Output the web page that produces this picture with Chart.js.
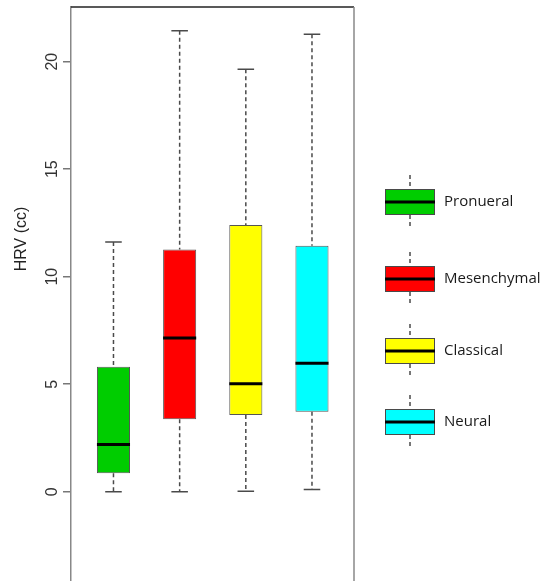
<!DOCTYPE html>
<html>
<head>
    <meta charset="UTF-8">
    <title>HRV boxplot</title>
    <script src="https://cdn.jsdelivr.net/npm/chart.js"></script>
    <style>
        html, body { margin: 0; padding: 0; background: #fff; overflow: hidden; }
        #wrap { position: relative; width: 557px; height: 581px; }
    </style>
</head>
<body>
    <div id="wrap"><canvas id="chart"></canvas></div>

    <script>
        // box plot values
        const categories = ['Pronueral', 'Mesenchymal', 'Classical', 'Neural'];
        const whiskerLow = [0, 0, 0.02, 0.11];
        const q1 = [0.86, 3.37, 3.57, 3.72];
        const medians = [2.2, 7.15, 5.02, 5.97];
        const q3 = [5.81, 11.26, 12.4, 11.44];
        const whiskerHigh = [11.61, 21.43, 19.65, 21.27];
        const boxColors = ['#00CD00', '#FF0000', '#FFFF00', '#00FFFF'];
        const yTicks = [0, 5, 10, 15, 20];
        const yTitle = 'HRV (cc)';

        const boxParts = {
            id: 'boxParts',
            beforeDatasetsDraw(chart) {
                const ctx = chart.ctx;
                const y = chart.scales.y;
                const meta = chart.getDatasetMeta(0);
                ctx.save();
                ctx.strokeStyle = '#4a4a4a';
                ctx.lineWidth = 1.5;
                meta.data.forEach((bar, i) => {
                    const x = bar.x, half = bar.width / 4;
                    // dashed whiskers
                    ctx.setLineDash([4, 3]);
                    ctx.beginPath();
                    ctx.moveTo(x, y.getPixelForValue(whiskerHigh[i]));
                    ctx.lineTo(x, y.getPixelForValue(q3[i]));
                    ctx.moveTo(x, y.getPixelForValue(q1[i]));
                    ctx.lineTo(x, y.getPixelForValue(whiskerLow[i]));
                    ctx.stroke();
                    // caps
                    ctx.setLineDash([]);
                    ctx.beginPath();
                    [whiskerHigh[i], whiskerLow[i]].forEach(v => {
                        const py = y.getPixelForValue(v);
                        ctx.moveTo(x - half, py);
                        ctx.lineTo(x + half, py);
                    });
                    ctx.stroke();
                });
                ctx.restore();
            },
            afterDatasetsDraw(chart) {
                const ctx = chart.ctx;
                const y = chart.scales.y;
                const meta = chart.getDatasetMeta(0);
                ctx.save();
                ctx.strokeStyle = '#000';
                ctx.lineWidth = 3;
                meta.data.forEach((bar, i) => {
                    const py = y.getPixelForValue(medians[i]);
                    ctx.beginPath();
                    ctx.moveTo(bar.x - bar.width / 2, py);
                    ctx.lineTo(bar.x + bar.width / 2, py);
                    ctx.stroke();
                });
                ctx.restore();
            },
            afterDraw(chart) {
                const ctx = chart.ctx;
                const a = chart.chartArea;
                ctx.save();
                // frame: top and right sides
                ctx.strokeStyle = '#222';
                ctx.lineWidth = 1.5;
                ctx.beginPath();
                ctx.moveTo(a.left, a.top);
                ctx.lineTo(a.right, a.top);
                ctx.stroke();
                ctx.strokeStyle = '#888';
                ctx.beginPath();
                ctx.moveTo(a.right, a.top);
                ctx.lineTo(a.right, a.bottom);
                ctx.stroke();

                // y axis title
                ctx.fillStyle = '#222';
                ctx.font = '16px "Liberation Sans", Arial, sans-serif';
                ctx.textAlign = 'center';
                ctx.textBaseline = 'middle';
                ctx.translate(22, 239);
                ctx.rotate(-Math.PI / 2);
                ctx.fillText(yTitle, 0, 0);
                ctx.restore();

                // legend with little box glyphs
                const rows = [202, 279, 351, 422];
                ctx.save();
                categories.forEach((name, i) => {
                    const cy = rows[i];
                    const left = 385, w = 50, h = 26;
                    const cx = left + w / 2;
                    ctx.strokeStyle = '#4a4a4a';
                    ctx.lineWidth = 1.5;
                    ctx.setLineDash([4, 3]);
                    ctx.beginPath();
                    ctx.moveTo(cx, cy - h / 2 - 14);
                    ctx.lineTo(cx, cy - h / 2);
                    ctx.moveTo(cx, cy + h / 2);
                    ctx.lineTo(cx, cy + h / 2 + 14);
                    ctx.stroke();
                    ctx.setLineDash([]);
                    ctx.fillStyle = boxColors[i];
                    ctx.fillRect(left, cy - h / 2, w, h);
                    ctx.lineWidth = 1;
                    ctx.strokeRect(left + 0.5, cy - h / 2 + 0.5, w - 1, h - 1);
                    ctx.strokeStyle = '#000';
                    ctx.lineWidth = 3;
                    ctx.beginPath();
                    ctx.moveTo(left, cy);
                    ctx.lineTo(left + w, cy);
                    ctx.stroke();
                    ctx.fillStyle = '#1a1a1a';
                    ctx.font = '15px "Open Sans", sans-serif';
                    ctx.textAlign = 'left';
                    ctx.textBaseline = 'middle';
                    ctx.fillText(name, 444, cy);
                });
                ctx.restore();
            }
        };

        const ctx = document.getElementById('chart').getContext('2d');
        new Chart(ctx, {
            type: 'bar',
            data: {
                datasets: [{
                    data: categories.map((c, i) => ({ x: i + 1, y: [q1[i], q3[i]] })),
                    backgroundColor: boxColors,
                    borderColor: '#555',
                    borderWidth: 1,
                    borderSkipped: false,
                    barPercentage: 0.5,
                    categoryPercentage: 1
                }]
            },
            options: {
                responsive: true,
                maintainAspectRatio: false,
                animation: false,
                layout: { padding: { left: 0, top: 7, right: 203, bottom: 0 } },
                plugins: { legend: { display: false }, tooltip: { enabled: false } },
                scales: {
                    x: {
                        type: 'linear',
                        min: 0.358,
                        max: 4.635,
                        offset: false,
                        display: false
                    },
                    y: {
                        min: -4.15,
                        max: 22.54,
                        afterFit: s => {
                            s.width = 71;
                            s.paddingTop = 0;
                            s.paddingBottom = 0;
                        },
                        afterBuildTicks: s => { s.ticks = yTicks.map(v => ({ value: v })); },
                        border: { display: true, color: '#888', width: 1.5 },
                        grid: { drawOnChartArea: false, drawTicks: true, tickLength: 8, color: '#777', lineWidth: 1.5 },
                        ticks: {
                            minRotation: 90,
                            maxRotation: 90,
                            crossAlign: 'center',
                            padding: 2,
                            color: '#333',
                            font: { family: '"Liberation Sans", Arial, sans-serif', size: 16 }
                        }
                    }
                }
            },
            plugins: [boxParts]
        });
    </script>
</body>
</html>
